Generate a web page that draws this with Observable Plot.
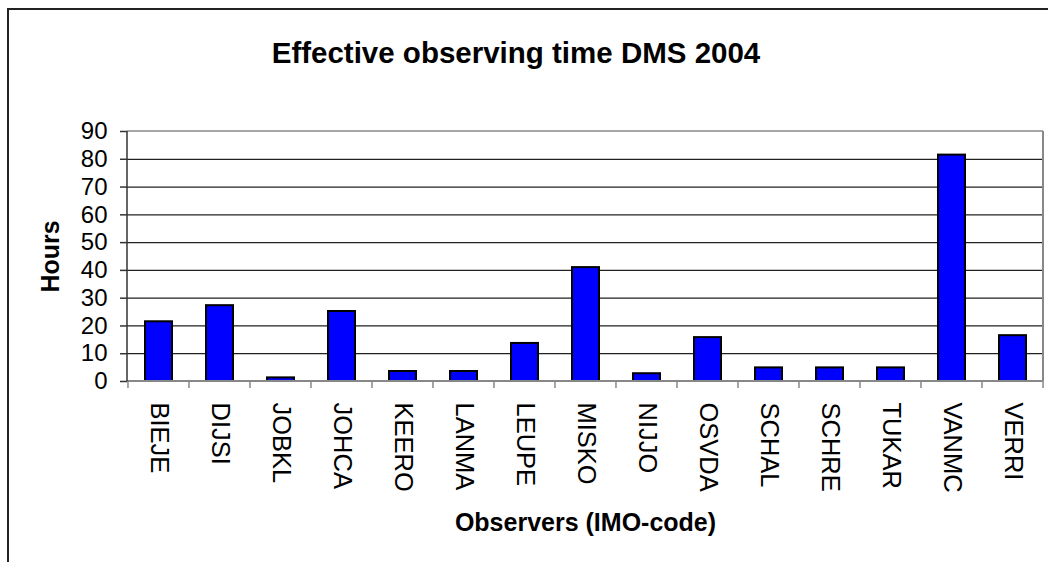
<!DOCTYPE html>
<html>
<head>
<meta charset="utf-8">
<script src="https://cdn.jsdelivr.net/npm/d3@7"></script>
<script src="https://cdn.jsdelivr.net/npm/@observablehq/plot@0.6"></script>
<style>
  html, body { margin: 0; padding: 0; background: #fff; overflow: hidden; }
  #wrap { position: relative; width: 1048px; height: 562px; overflow: hidden; font-family: "Liberation Sans", Arial, sans-serif; }
  #outer { position: absolute; left: 7px; top: 8px; width: 1100px; height: 620px; border: 2px solid #222; box-sizing: border-box; }
  #title { position: absolute; left: 0; width: 1032px; top: 38px; text-align: center; font-weight: bold; font-size: 29.5px; line-height: 29.5px; color: #000; }
  #chart { position: absolute; left: 0; top: 0; }
</style>
</head>
<body>
<div id="wrap">
  <div id="outer"></div>
  <div id="chart"></div>
  <div id="title">Effective observing time DMS 2004</div>
</div>
<script>
const observers = ["BIEJE","DIJSI","JOBKL","JOHCA","KEERO","LANMA","LEUPE","MISKO","NIJJO","OSVDA","SCHAL","SCHRE","TUKAR","VANMC","VERRI"];
const hours = [21.5, 27.3, 1.3, 25.2, 3.6, 3.6, 13.7, 41.0, 2.8, 15.8, 4.9, 4.9, 4.9, 81.5, 16.5];
const yTicks = [0, 10, 20, 30, 40, 50, 60, 70, 80, 90];
const gridTicks = [10, 20, 30, 40, 50, 60, 70, 80];
const xTitle = "Observers (IMO-code)";
const yTitle = "Hours";

const data = observers.map((o, i) => ({observer: o, hours: hours[i]}));

const font = "'Liberation Sans', Arial, sans-serif";

// custom mark: axis lines, plot border, and category-boundary ticks (Excel style)
function frameAndTicks(index, scales, values, dims) {
  const x = scales.x, y = scales.y;
  const n = observers.length;
  const left = dims.marginLeft, right = dims.width - dims.marginRight;
  const step = (right - left) / n;
  const bw = typeof x.bandwidth === "function" ? x.bandwidth() : 0;
  const y0 = y(0), yTop = y(90);
  const g = d3.create("svg:g");
  g.append("line").attr("x1", right).attr("x2", right).attr("y1", yTop).attr("y2", y0).attr("stroke", "#888").attr("stroke-width", 2);
  g.append("line").attr("x1", left).attr("x2", right).attr("y1", yTop).attr("y2", yTop).attr("stroke", "#888").attr("stroke-width", 1.5);
  g.append("line").attr("x1", left).attr("x2", right).attr("y1", y0).attr("y2", y0).attr("stroke", "#888").attr("stroke-width", 2);
  const bounds = observers.map(o => x(o) + bw / 2 - step / 2);
  bounds.push(x(observers[n - 1]) + bw / 2 + step / 2);
  for (const b of bounds) {
    g.append("line").attr("x1", b).attr("x2", b).attr("y1", y0).attr("y2", y0 + 7).attr("stroke", "#888").attr("stroke-width", 1.5);
  }
  g.append("line").attr("x1", left).attr("x2", left).attr("y1", yTop).attr("y2", y0).attr("stroke", "#333").attr("stroke-width", 1.5);
  return g.node();
}

const chart = Plot.plot({
  width: 1048,
  height: 562,
  marginLeft: 127,
  marginRight: 5,
  marginTop: 131,
  marginBottom: 181,
  style: {fontFamily: font, background: "transparent", color: "#000", overflow: "visible"},
  x: {type: "band", domain: observers, paddingInner: 0.56, paddingOuter: 0.28, label: null},
  y: {domain: [0, 90], label: null},
  marks: [
    Plot.ruleY(gridTicks, {y: d => d, stroke: "#222", strokeWidth: 1.2}),
    Plot.barY(data, {x: "observer", y: "hours", fill: "#0000ff", stroke: "#000", strokeWidth: 2}),
    frameAndTicks,
    Plot.axisY(yTicks, {tickSize: 7, tickPadding: 13, fontSize: 24, stroke: "#333", strokeWidth: 1.5, label: null, fill: "#000"}),
    Plot.axisX({tickSize: 0, tickPadding: 21, tickRotate: 90, fontSize: 25.5, label: null, fill: "#000"}),
    Plot.text([yTitle], {frameAnchor: "left", dx: -77, rotate: -90, text: d => d, fontSize: 25, fontWeight: "bold", textAnchor: "middle", lineAnchor: "middle", fill: "#000"}),
    Plot.text([xTitle], {frameAnchor: "bottom", dy: 149, text: d => d, fontSize: 25, fontWeight: "bold", textAnchor: "middle", lineAnchor: "bottom", fill: "#000"})
  ]
});
document.getElementById("chart").appendChild(chart);
</script>
</body>
</html>
